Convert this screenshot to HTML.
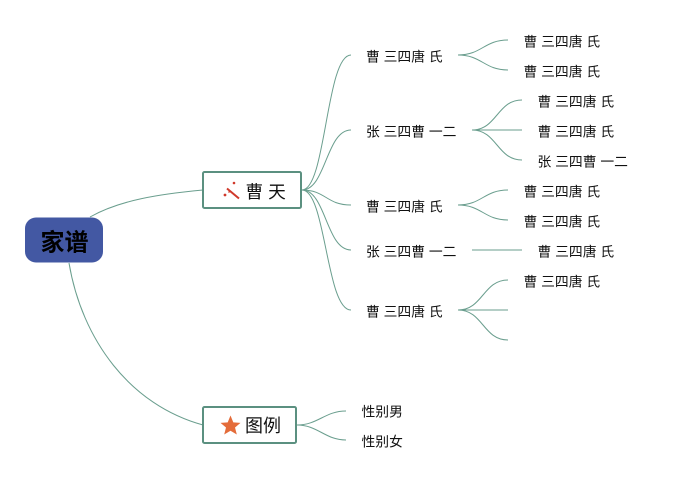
<!DOCTYPE html>
<html lang="zh">
<head>
<meta charset="utf-8">
<title>家谱</title>
<style>
html,body{margin:0;padding:0;background:#fff}
body{width:688px;height:480px;overflow:hidden;position:relative}
svg{position:absolute;left:0;top:0}
text{font-family:"Liberation Sans","Noto Sans CJK SC",sans-serif;fill:#111;font-size:13.800px}
.e{fill:none;stroke:#6a9e8e;stroke-width:1}
</style>
</head>
<body>
<svg width="688" height="480" viewBox="0 0 688 480" xmlns="http://www.w3.org/2000/svg">
  <!-- root connectors -->
  <path class="e" d="M90 217C120 200 160 194 203 190"/>
  <path class="e" d="M69 263C82 340 130 405 203 425"/>
  <!-- level 1 connectors -->
  <path class="e" d="M302 190C326 190 326 55 351 55"/>
  <path class="e" d="M302 190C326 190 326 130 351 130"/>
  <path class="e" d="M302 190C326 190 326 205 351 205"/>
  <path class="e" d="M302 190C326 190 326 250 351 250"/>
  <path class="e" d="M302 190C326 190 326 310 351 310"/>
  <path class="e" d="M297 425C318 425 325 411 346 411"/>
  <path class="e" d="M297 425C318 425 325 440 346 440"/>
  <!-- level 2 connectors -->
  <path class="e" d="M458 55C482 55 484 40 508 40"/>
  <path class="e" d="M458 55C482 55 484 70 508 70"/>
  <path class="e" d="M472 130C497 130 497 100 522 100"/>
  <path class="e" d="M472 130H522"/>
  <path class="e" d="M472 130C497 130 497 160 522 160"/>
  <path class="e" d="M458 205C482 205 484 190 508 190"/>
  <path class="e" d="M458 205C482 205 484 220 508 220"/>
  <path class="e" d="M472 250H522"/>
  <path class="e" d="M458 310C483 310 483 280 508 280"/>
  <path class="e" d="M458 310H508"/>
  <path class="e" d="M458 310C483 310 483 340 508 340"/>

  <!-- root -->
  <rect x="25" y="217.500" width="78" height="45" rx="11" fill="#4358a3"/>
  <text x="40.500" y="250.500" style="font-size:24px;font-weight:bold;fill:#000">家谱</text>

  <!-- level 1 nodes -->
  <rect x="203" y="172" width="98" height="36" rx="1.500" fill="#fff" stroke="#5b9080" stroke-width="2"/>
  <g stroke="#d0392b" fill="#d0392b">
    <path d="M227 188.500L239 198.500" stroke-width="2"/>
    <circle cx="234" cy="183" r="1.300" stroke="none"/>
    <circle cx="225" cy="195" r="1.400" stroke="none"/>
    <circle cx="229" cy="192" r=".8" stroke="none"/>
  </g>
  <text x="245.500" y="198" style="font-size:17.700px">曹 天</text>

  <rect x="203" y="407" width="93" height="36" rx="1.500" fill="#fff" stroke="#5b9080" stroke-width="2"/>
  <polygon points="230.500,415.500 233.300,422.400 240.500,422.900 235,427.500 236.800,434.500 230.500,430.700 224.200,434.500 226,427.500 220.500,422.900 227.700,422.400" fill="#e46c3a"/>
  <text x="245" y="432" style="font-size:18px">图例</text>

  <!-- level 2 labels -->
  <text x="366" y="61.500">曹 三四唐 氏</text>
  <text x="366" y="136.500">张 三四曹 一二</text>
  <text x="366" y="211.500">曹 三四唐 氏</text>
  <text x="366" y="256.500">张 三四曹 一二</text>
  <text x="366" y="316.500">曹 三四唐 氏</text>

  <!-- level 3 labels -->
  <text x="523.500" y="46.500">曹 三四唐 氏</text>
  <text x="523.500" y="76.500">曹 三四唐 氏</text>
  <text x="537.500" y="106.500">曹 三四唐 氏</text>
  <text x="537.500" y="136.500">曹 三四唐 氏</text>
  <text x="537.500" y="166.500">张 三四曹 一二</text>
  <text x="523.500" y="196.500">曹 三四唐 氏</text>
  <text x="523.500" y="226.500">曹 三四唐 氏</text>
  <text x="537.500" y="256.500">曹 三四唐 氏</text>
  <text x="523.500" y="286.500">曹 三四唐 氏</text>

  <text x="361.500" y="416.500">性别男</text>
  <text x="361.500" y="446.500">性别女</text>
</svg>
</body>
</html>
